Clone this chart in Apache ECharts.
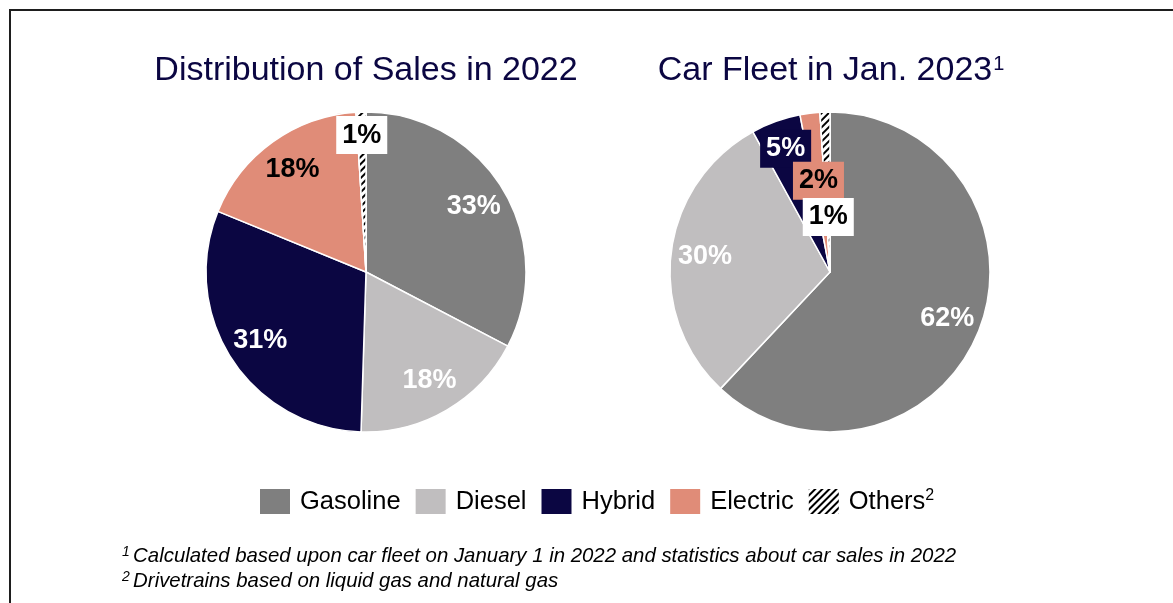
<!DOCTYPE html>
<html>
<head>
<meta charset="utf-8">
<title>Sales and car fleet by drivetrain</title>
<script src="https://cdn.jsdelivr.net/npm/echarts@6/dist/echarts.min.js"></script>
<style>
  html, body { margin: 0; padding: 0; background: #fff; }
  #chart { width: 1173px; height: 603px; }
</style>
</head>
<body>
<div id="chart"></div>
<script>
// Drivetrain categories, in slice order (clockwise from 12 o'clock)
const categories = ['Gasoline', 'Diesel', 'Hybrid', 'Electric', 'Others'];
// Share of new car sales in 2022 (%)
const sales2022 = [33, 18, 31, 18, 1];
// Share of the car fleet in January 2023 (%)
const fleet2023 = [62, 30, 5, 2, 1];

const titles = ['Distribution of Sales in 2022', 'Car Fleet in Jan. 2023'];
const footnotes = [
  'Calculated based upon car fleet on January 1 in 2022 and statistics about car sales in 2022',
  'Drivetrains based on liquid gas and natural gas'
];

const FONT = '"Liberation Sans", Arial, Helvetica, sans-serif';
const NAVY = '#0b0642';
const colors = ['#7f7f7f', '#c0bebf', '#0b0642', '#e08c78', '#ffffff'];

const hatch = {
  symbol: 'rect',
  symbolSize: 1,
  dashArrayX: [[1, 0]],
  dashArrayY: [2, 2.6],
  rotation: -Math.PI / 4,
  color: '#000'
};

const R = 160;
const centers = [[366, 272], [830, 272]];

function sliceData(values) {
  return values.map((v, i) => {
    const item = { name: categories[i], value: v, itemStyle: { color: colors[i] } };
    if (categories[i] === 'Others') item.itemStyle.decal = hatch;
    return item;
  });
}

const baseLabel = {
  position: 'inside',
  formatter: '{c}%',
  fontFamily: FONT,
  fontWeight: 'bold',
  fontSize: 27
};

// Label styles per slice; boxed labels sit over thin slices
const boxPad = [6, 6, 5, 6];
const labelStyle = {
  plain: { color: '#fff' },
  dark: { color: '#000' },
  boxWhite: { color: '#000', backgroundColor: '#fff', padding: boxPad },
  boxNavy: { color: '#fff', backgroundColor: NAVY, padding: boxPad },
  boxSalmon: { color: '#000', backgroundColor: '#e08c78', padding: boxPad }
};

// Transparent ring whose mid-radius places the "inside" labels of the chosen slices
function labelRing(center, values, mid, shown) {
  return {
    type: 'pie',
    center: center,
    radius: [mid - 10, mid + 10],
    silent: true,
    legendHoverLink: false,
    animation: false,
    avoidLabelOverlap: false,
    minShowLabelAngle: 0,
    labelLayout: { hideOverlap: false },
    z: 5,
    itemStyle: { color: 'transparent', borderWidth: 0 },
    labelLine: { show: false },
    emphasis: { disabled: true },
    data: values.map((v, i) => {
      const st = shown[i];
      return {
        value: v,
        label: st ? Object.assign({ show: true, overflow: 'none' }, baseLabel, labelStyle[st]) : { show: false }
      };
    })
  };
}

function mainPie(name, center, values) {
  return {
    name: name,
    type: 'pie',
    center: center,
    radius: [0, R],
    startAngle: 90,
    clockwise: true,
    animation: false,
    itemStyle: { borderColor: '#fff', borderWidth: 1.5 },
    label: { show: false },
    labelLine: { show: false },
    emphasis: { disabled: true },
    data: sliceData(values)
  };
}

const titleStyle = {
  fontFamily: FONT,
  fontSize: 34,
  fontWeight: 'normal',
  color: NAVY,
  rich: {
    sup: { fontFamily: FONT, fontSize: 20, color: NAVY, verticalAlign: 'top', padding: [0, 0, 14, 1] }
  }
};

const supRich = {
  sup: { fontFamily: FONT, fontSize: 14, fontStyle: 'italic', color: '#000', padding: [0, 0, 8, 0] },
  txt: { fontFamily: FONT, fontSize: 20.4, fontStyle: 'italic', color: '#000' }
};

const chart = echarts.init(document.getElementById('chart'), null, { renderer: 'canvas' });

chart.setOption({
  backgroundColor: '#fff',
  animation: false,
  title: [
    { text: titles[0], left: 361, top: 49, textAlign: 'center', textStyle: titleStyle },
    { text: titles[1] + '{sup|1}', left: 826, top: 49, textAlign: 'center', textStyle: titleStyle }
  ],
  legend: {
    data: categories,
    left: 253,
    top: 482,
    itemWidth: 32,
    itemHeight: 27,
    itemGap: 13,
    selectedMode: false,
    icon: 'rect',
    textStyle: {
      fontFamily: FONT,
      fontSize: 25.5,
      color: '#000',
      padding: [0, 0, 0, 4],
      rich: {
        sup: { fontFamily: FONT, fontSize: 16, color: '#000', padding: [0, 0, 12, 0] }
      }
    },
    formatter: name => name === 'Others' ? name + '{sup|2}' : name
  },
  graphic: [
    {
      type: 'rect',
      shape: { x: 10, y: 10, width: 1200, height: 700 },
      style: { fill: 'none', stroke: '#1e1e1e', lineWidth: 2 },
      silent: true
    },
    {
      type: 'text',
      left: 122,
      top: 545,
      style: { text: '{sup|1} {txt|' + footnotes[0] + '}', rich: supRich }
    },
    {
      type: 'text',
      left: 122,
      top: 570,
      style: { text: '{sup|2} {txt|' + footnotes[1] + '}', rich: supRich }
    }
  ],
  series: [
    mainPie('Sales 2022', centers[0], sales2022),
    mainPie('Fleet 2023', centers[1], fleet2023),
    labelRing(centers[0], sales2022, 123, ['plain', 'plain', 'plain', 'dark', null]),
    labelRing(centers[0], sales2022, 134, [null, null, null, null, 'boxWhite']),
    labelRing(centers[1], fleet2023, 123, ['plain', 'plain', null, null, null]),
    labelRing(centers[1], fleet2023, 128, [null, null, 'boxNavy', null, null]),
    labelRing(centers[1], fleet2023, 89, [null, null, null, 'boxSalmon', null]),
    labelRing(centers[1], fleet2023, 52, [null, null, null, null, 'boxWhite'])
  ]
});
</script>
</body>
</html>
